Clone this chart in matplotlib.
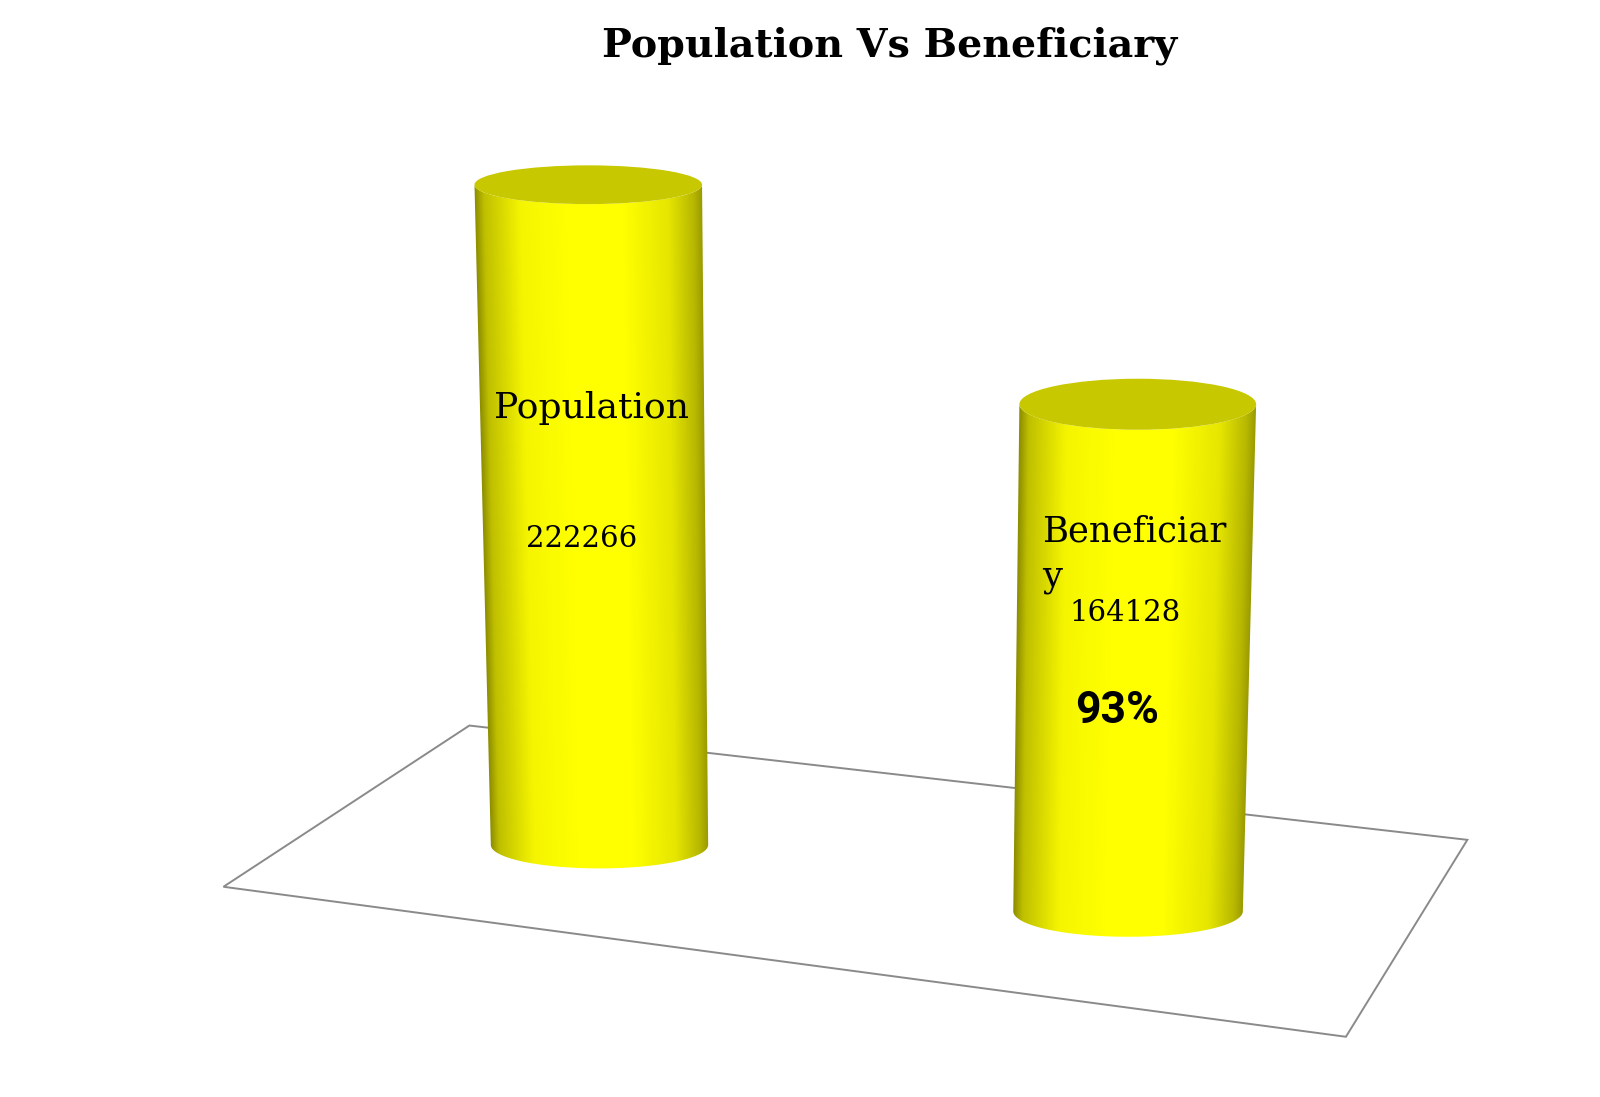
import numpy as np
import matplotlib
matplotlib.use('Agg')
import matplotlib.pyplot as plt
from matplotlib.patches import Polygon, Ellipse
from matplotlib.path import Path

# datos del grafico
categorias = ['Population', 'Beneficiary']
etiquetas = ['Population', 'Beneficiar\ny']
valores = [222266, 164128]
porcentaje = '93%'
titulo = 'Population Vs Beneficiary'

# geometria (unidades de lienzo, eje y invertido)
escala = 647.0 / 222266          # unidades por habitante
profundidad = [1.0, 1.04]        # efecto de perspectiva
base_cx = [587.5, 1105.5]
base_cy = [828.0, 893.0]
base_hw = [106.5, 112.5]
top_cx = [576.5, 1115.0]
top_hw = [111.5, 116.0]
ry_top = [19.0, 25.0]
ry_bot = [23.0, 25.0]

piso = [(460, 711), (1438, 823), (1319, 1016), (219, 869)]

ANCHO, ALTO = 1568, 1075


def dibujar_cilindro(ax, i):
    yb = base_cy[i]
    yt = yb - valores[i] * escala * profundidad[i]
    xlb, xrb = base_cx[i] - base_hw[i], base_cx[i] + base_hw[i]
    xlt, xrt = top_cx[i] - top_hw[i], top_cx[i] + top_hw[i]

    # contorno del lateral
    th = np.linspace(np.pi, 0, 80)
    arco_inf = np.column_stack([base_cx[i] + base_hw[i] * np.cos(th),
                                yb + ry_bot[i] * np.sin(th)])
    th2 = np.linspace(0, np.pi, 80)
    arco_sup = np.column_stack([top_cx[i] + top_hw[i] * np.cos(th2),
                                yt + ry_top[i] * np.sin(th2)])
    verts = np.vstack([[xlt, yt], [xlb, yb], arco_inf, [xrt, yt], arco_sup, [xlt, yt]])
    camino = Path(verts, closed=True)

    # degradado horizontal
    x0, x1 = min(xlb, xlt) - 2, max(xrb, xrt) + 2
    y0, y1 = yt - ry_top[i] - 2, yb + ry_bot[i] + 2
    xs = np.arange(x0, x1, 1.0)
    ys = np.arange(y0, y1, 1.0)
    X, Y = np.meshgrid(xs, ys)
    s = np.clip((Y - yt) / (yb - yt), 0, 1)
    izq = xlt + s * (xlb - xlt)
    der = xrt + s * (xrb - xrt)
    t = np.clip((X - izq) / (der - izq), 0, 1)
    brillo = np.interp(t, [0, 0.04, 0.2, 0.4, 0.65, 0.85, 0.96, 1.0],
                       [0.55, 0.75, 0.96, 1.0, 1.0, 0.9, 0.72, 0.6])
    img = np.zeros(X.shape + (3,))
    img[..., 0] = brillo
    img[..., 1] = brillo
    im = ax.imshow(img, extent=(x0, x1, y1, y0), origin='upper',
                   interpolation='bilinear', zorder=2)
    im.set_clip_path(camino, ax.transData)

    # tapa superior
    tapa = Ellipse((top_cx[i], yt), 2 * top_hw[i], 2 * ry_top[i],
                   facecolor='#c8c800', edgecolor='none', zorder=3)
    ax.add_patch(tapa)
    return yt


fig = plt.figure(figsize=(16, 10.97), dpi=100)
ax = fig.add_axes([0, 0, 1, 1])
ax.set_xlim(0, ANCHO)
ax.set_ylim(ALTO, 0)
ax.axis('off')

ax.add_patch(Polygon(piso, closed=True, fill=False, edgecolor='#8a8a8a',
                     linewidth=1.4, zorder=1))

for i in range(len(valores)):
    dibujar_cilindro(ax, i)

serif = 'DejaVu Serif'
ax.text(872, 45, titulo, ha='center', va='center', fontsize=28.5,
        fontweight='bold', family=serif)

ax.text(580, 400, etiquetas[0], ha='center', va='center', fontsize=26,
        family=serif, zorder=5)
ax.text(570, 528, f'{valores[0]}', ha='center', va='center', fontsize=21,
        family=serif, zorder=5)

ax.text(1021, 543, etiquetas[1], ha='left', va='center', fontsize=25.5,
        family=serif, linespacing=1.42, zorder=5)
ax.text(1103, 601, f'{valores[1]}', ha='center', va='center', fontsize=21,
        family=serif, zorder=5)
ax.text(1095, 697, porcentaje, ha='center', va='center', fontsize=32,
        fontweight='bold', fontstyle='normal', family='Roboto', zorder=5)

fig.savefig('out.png', dpi=100)
